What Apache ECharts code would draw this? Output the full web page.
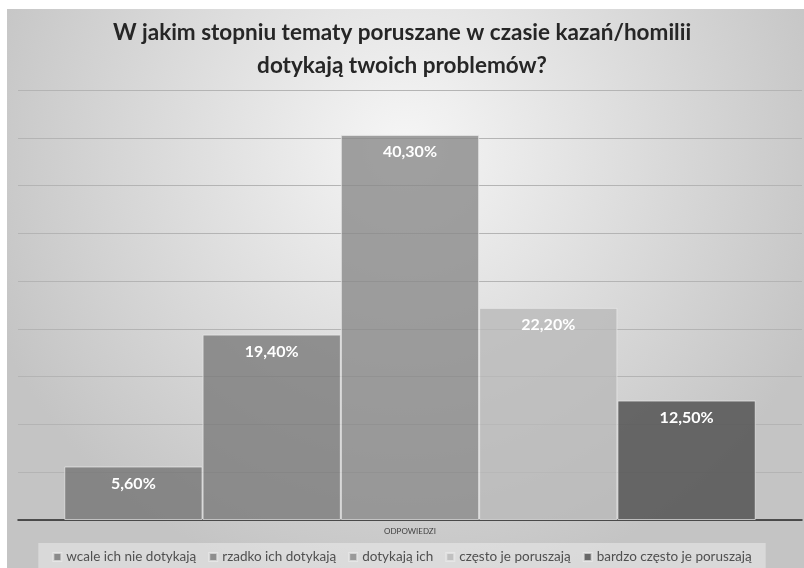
<!DOCTYPE html>
<html><head><meta charset="utf-8">
<script src="https://cdn.jsdelivr.net/npm/echarts@6/dist/echarts.min.js"></script>
<style>html,body{margin:0;padding:0;background:#fff}#c{width:804px;height:568px}</style>
</head><body><div id="c"></div>
<script>
const category = ['ODPOWIEDZI'];
const seriesNames = ['wcale ich nie dotykają', 'rzadko ich dotykają', 'dotykają ich', 'często je poruszają', 'bardzo często je poruszają'];
const seriesValues = [5.6, 19.4, 40.3, 22.2, 12.5];
const seriesColors = ['rgba(118,118,118,0.8)', 'rgba(122,122,122,0.8)', 'rgba(138,138,138,0.8)', 'rgba(185,185,185,0.8)', 'rgba(90,90,90,0.9)'];
const titleText = 'W jakim stopniu tematy poruszane w czasie kazań/homilii\ndotykają twoich problemów?';

const chart = echarts.init(document.getElementById('c'), null, {renderer: 'canvas'});
const font = 'Lato, "Open Sans", sans-serif';
chart.setOption({
  animation: false,
  backgroundColor: '#ffffff',
  graphic: [{
    type: 'rect', z: -10, silent: true,
    shape: {x: 7, y: 9, width: 797, height: 559},
    style: {fill: {type: 'radial', x: 0.5, y: 0.25, r: 0.8,
      colorStops: [{offset: 0, color: '#f6f6f6'}, {offset: 1, color: '#c4c4c4'}]}}
  }],
  title: {
    text: titleText, left: 'center', top: 11,
    textStyle: {fontFamily: font, fontSize: 22.5, fontWeight: 'bold', color: '#262626', lineHeight: 33}
  },
  grid: {left: 18, right: 2, top: 90, bottom: 48, containLabel: false},
  legend: {
    bottom: -4, left: 'center', icon: 'rect', itemWidth: 8, itemHeight: 8, itemGap: 12,
    backgroundColor: 'rgba(235,235,235,0.55)', padding: [7, 14, 8, 14],
    textStyle: {fontFamily: font, fontSize: 13.5, color: '#505050'},
    data: seriesNames
  },
  xAxis: {
    type: 'category', data: category,
    axisLine: {lineStyle: {color: '#262626', width: 1.5}},
    axisTick: {show: false},
    axisLabel: {fontFamily: font, fontSize: 8, color: '#404040', margin: 7}
  },
  yAxis: {
    type: 'value', min: 0, max: 45, interval: 5,
    axisLabel: {show: false}, axisLine: {show: false}, axisTick: {show: false},
    splitLine: {lineStyle: {color: '#b4b4b4', width: 1}}
  },
  series: seriesNames.map((n, i) => ({
    name: n, type: 'bar', barGap: '0%', barCategoryGap: '11.8%',
    data: [seriesValues[i]],
    itemStyle: {color: seriesColors[i], borderColor: 'rgba(235,235,235,0.7)', borderWidth: 1},
    label: {show: true, position: 'insideTop', distance: 9,
      formatter: p => p.value.toFixed(2).replace('.', ',') + '%',
      fontFamily: font, fontSize: 16, fontWeight: 'bold', color: '#ffffff'}
  }))
});
</script></body></html>
